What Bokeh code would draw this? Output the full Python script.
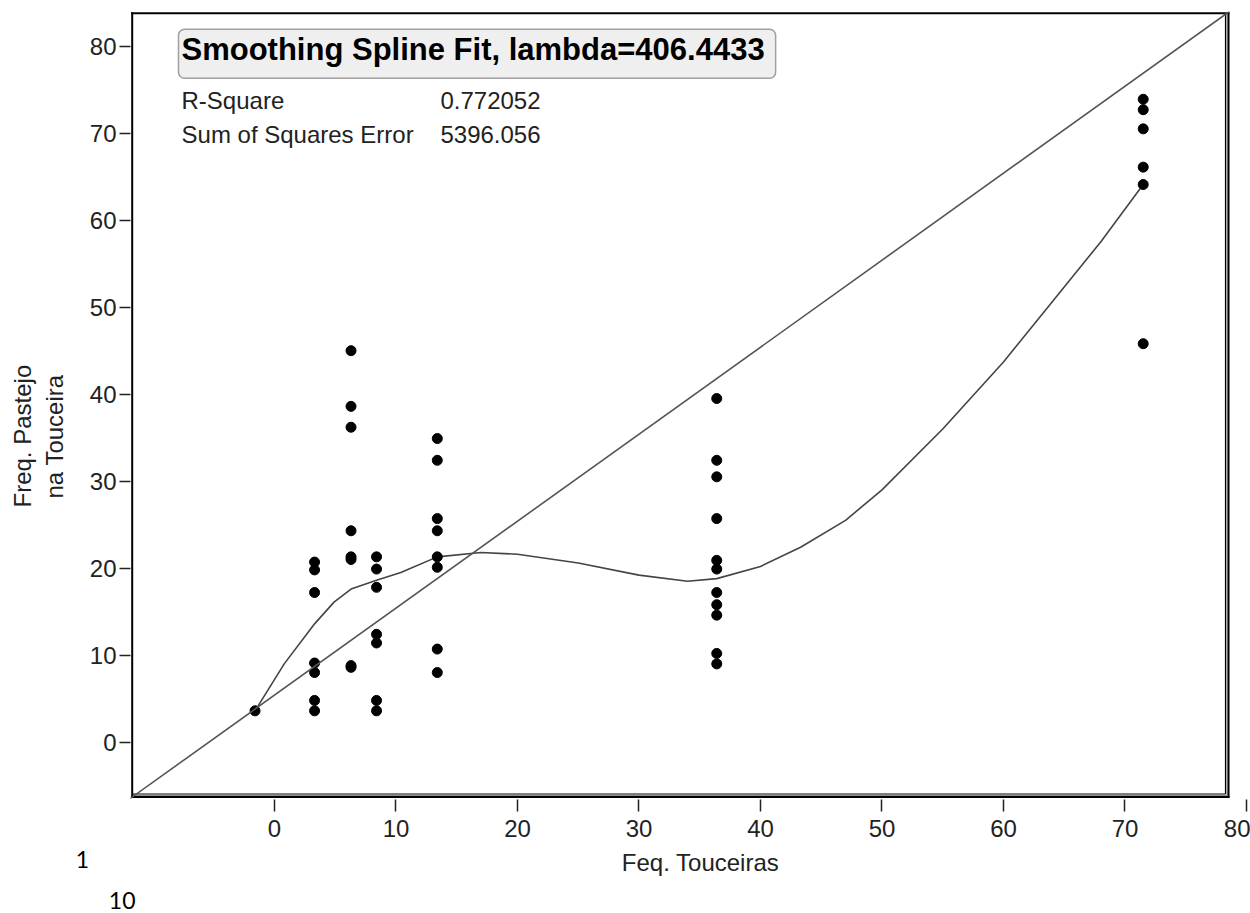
from bokeh.plotting import figure
from bokeh.layouts import column
from bokeh.models import Label, Slope, FixedTicker, Range1d, Title
from bokeh.embed import file_html
from bokeh.resources import INLINE

# ---- data ----
x_cluster_m2 = [-1.6]
y_cluster_m2 = [3.6]
x_c3 = [3.3] * 7
y_c3 = [20.7, 19.8, 17.2, 9.1, 8.0, 4.8, 3.6]
x_c6 = [6.3] * 8
y_c6 = [45.0, 38.6, 36.2, 24.3, 21.3, 21.0, 8.8, 8.6]
x_c8 = [8.4] * 7
y_c8 = [21.3, 19.9, 17.8, 12.4, 11.4, 4.8, 3.6]
x_c13 = [13.4] * 8
y_c13 = [34.9, 32.4, 25.7, 24.3, 21.3, 20.1, 10.7, 8.0]
x_c36 = [36.4] * 11
y_c36 = [39.5, 32.4, 30.5, 25.7, 20.9, 19.9, 17.2, 15.8, 14.6, 10.2, 9.0]
x_c71 = [71.5] * 6
y_c71 = [73.9, 72.7, 70.5, 66.1, 64.1, 45.8]

pts_x = x_cluster_m2 + x_c3 + x_c6 + x_c8 + x_c13 + x_c36 + x_c71
pts_y = y_cluster_m2 + y_c3 + y_c6 + y_c8 + y_c13 + y_c36 + y_c71

# smoothing spline fit
spline_x = [-1.6, 0.8, 3.3, 4.9, 6.3, 8.4, 10.4, 13.4, 17.0, 20.0, 25.0, 30.0,
            34.0, 36.4, 40.0, 43.3, 47.0, 50.0, 55.0, 60.0, 64.0, 68.0, 71.5]
spline_y = [3.6, 9.0, 13.6, 16.1, 17.6, 18.6, 19.5, 21.3, 21.8, 21.6, 20.6, 19.2,
            18.5, 18.8, 20.2, 22.4, 25.5, 29.0, 36.0, 43.7, 50.6, 57.5, 64.1]

# reference diagonal
diag_slope = 1.0
diag_intercept = 5.4

x_ticks = [0, 10, 20, 30, 40, 50, 60, 70, 80]
y_ticks = [0, 10, 20, 30, 40, 50, 60, 70, 80]

title_text = "Smoothing Spline Fit, lambda=406.4433"
stat_names = ["R-Square", "Sum of Squares Error"]
stat_values = ["0.772052", "5396.056"]
x_title = "Feq. Touceiras"
y_title_lines = ["Freq. Pastejo", "na Touceira"]
page_numbers = ["1", "10"]

# ---- layout constants ----
BOX_L, BOX_R, BOX_B, BOX_T = -11.71, 78.52, -6.3, 83.8   # drawn plot box
PX_X = 12.15  # pixels per x unit
PX_Y = 8.7    # pixels per y unit

FONT = "Liberation Sans"
TXT = "#222222"

p = figure(width=1250, height=846, output_backend="svg", toolbar_location=None,
           x_range=Range1d(-11.85, 80.33), y_range=Range1d(-6.59, 83.99),
           min_border_left=130, min_border_right=0, min_border_top=11,
           min_border_bottom=47)
p.grid.visible = False
p.background_fill_color = "white"
p.border_fill_color = "white"
p.outline_line_color = None

for axis in list(p.xaxis) + list(p.yaxis):
    axis.axis_line_color = None
    axis.axis_line_alpha = 0
    axis.minor_tick_line_color = None
    axis.major_tick_in = 0
    axis.major_tick_line_color = "#222222"
    axis.major_tick_line_width = 1.5
    axis.major_label_text_font = FONT
    axis.major_label_text_font_size = "24px"
    axis.major_label_text_color = TXT
p.xaxis[0].ticker = FixedTicker(ticks=x_ticks)
p.yaxis[0].ticker = FixedTicker(ticks=y_ticks)
p.xaxis[0].major_tick_out = 12
p.xaxis[0].major_label_standoff = 8
p.yaxis[0].major_tick_out = 11
p.yaxis[0].major_label_standoff = 3

# y axis title, two lines, as side-panel titles
for text, off, stand in ((y_title_lines[1], 301, 37), (y_title_lines[0], 292, -31)):
    p.add_layout(Title(text=text, align="left", offset=off, standoff=stand,
                       text_font=FONT, text_font_size="24px", text_font_style="normal",
                       text_color=TXT), "left")

# plot box drawn edge by edge: outer black line, plus gray and black inner lines on right / bottom
r_in1, r_in2 = BOX_R - 1.5 / PX_X, BOX_R - 3.0 / PX_X
b_in1, b_in2 = BOX_B + 1.5 / PX_Y, BOX_B + 3.0 / PX_Y
p.segment(x0=[r_in1, BOX_L], y0=[BOX_T, b_in1], x1=[r_in1, r_in1], y1=[b_in1, b_in1],
          line_color="#8a8a8a", line_width=1)
p.segment(x0=[r_in2, BOX_L], y0=[BOX_T, b_in2], x1=[r_in2, r_in2], y1=[b_in2, b_in2],
          line_color="black", line_width=1.2)
p.segment(x0=[BOX_L, BOX_L, BOX_R, BOX_L], y0=[BOX_B, BOX_T, BOX_T, BOX_B],
          x1=[BOX_L, BOX_R, BOX_R, BOX_R], y1=[BOX_T, BOX_T, BOX_B, BOX_B],
          line_color="black", line_width=2, line_cap="square")

p.add_layout(Slope(gradient=diag_slope, y_intercept=diag_intercept, line_color="#555555", line_width=1.6))
p.line(spline_x, spline_y, line_color="#444444", line_width=1.6)
p.scatter(pts_x, pts_y, size=10, color="black")

# fit summary box
p.add_layout(Label(x=-7.90, y=79.13, text=title_text, text_font=FONT, text_font_style="bold",
                   text_font_size="31px", text_color="black", text_align="left", text_baseline="middle",
                   background_fill_color="#efefef", border_line_color="#a0a0a0", border_line_width=1.5,
                   padding=(3, 11, 3, 11), border_radius=6))
stat_y = [73.76, 69.82]
for name, val, yy in zip(stat_names, stat_values, stat_y):
    p.add_layout(Label(x=-7.65, y=yy, text=name, text_font=FONT, text_font_size="24px",
                       text_color=TXT, text_align="left", text_baseline="middle"))
    p.add_layout(Label(x=13.66, y=yy, text=val, text_font=FONT, text_font_size="24px",
                       text_color=TXT, text_align="left", text_baseline="middle"))

# footer strip: x axis title and the document's page numbers (pixel coordinates)
f = figure(width=1250, height=67, output_backend="svg", toolbar_location=None,
           x_range=Range1d(0, 1250), y_range=Range1d(67, 0), min_border=0,
           x_axis_type=None, y_axis_type=None)
f.grid.visible = False
f.outline_line_color = None
f.background_fill_color = "white"
f.border_fill_color = "white"
f.add_layout(Label(x=700, y=16, text=x_title, text_font=FONT, text_font_size="24px",
                   text_color=TXT, text_align="center", text_baseline="middle"))
f.add_layout(Label(x=82, y=13, text=page_numbers[0], text_font="Lato", text_font_size="23px",
                   text_color="black", text_align="center", text_baseline="middle"))
f.add_layout(Label(x=121.7, y=54, text=page_numbers[1], text_font="Lato", text_font_size="23px",
                   text_color="black", text_align="center", text_baseline="middle"))

# keep each figure's frame where its own borders put it
for fig in (p, f):
    try:
        fig.frame_align = False
    except AttributeError:
        pass

layout = column(p, f, spacing=0)
open("out.html", "w").write(file_html(layout, INLINE))
